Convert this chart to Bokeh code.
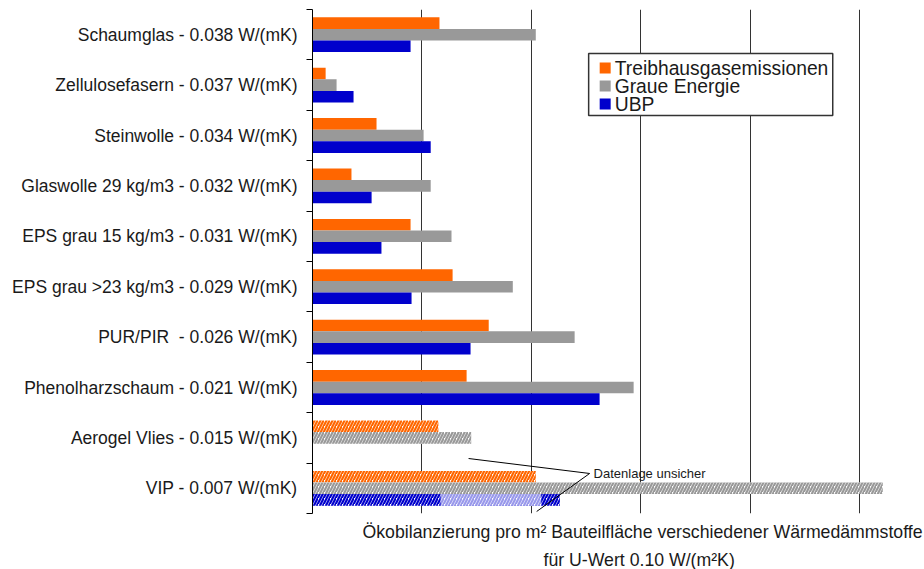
from bokeh.plotting import figure
from bokeh.models import FixedTicker, Label, Title
from bokeh.embed import file_html
from bokeh.resources import INLINE

categories = [
    "Schaumglas - 0.038 W/(mK)",
    "Zellulosefasern - 0.037 W/(mK)",
    "Steinwolle - 0.034 W/(mK)",
    "Glaswolle 29 kg/m3 - 0.032 W/(mK)",
    "EPS grau 15 kg/m3 - 0.031 W/(mK)",
    "EPS grau >23 kg/m3 - 0.029 W/(mK)",
    "PUR/PIR\u00a0 - 0.026 W/(mK)",
    "Phenolharzschaum - 0.021 W/(mK)",
    "Aerogel Vlies - 0.015 W/(mK)",
    "VIP - 0.007 W/(mK)",
]
treibhaus = [1.16, 0.12, 0.585, 0.356, 0.896, 1.28, 1.61, 1.408, 1.15, 2.04]
graue = [2.04, 0.22, 1.015, 1.08, 1.27, 1.83, 2.395, 2.934, 1.45, 5.21]
ubp = [0.896, 0.375, 1.08, 0.54, 0.63, 0.905, 1.444, 2.623, None, 2.26]
uncertain = [False] * 8 + [True, True]
vip_ubp_faded = [1.17, 2.09]

series_names = ["Treibhausgasemissionen", "Graue Energie", "UBP"]
series_colors = ["#FF6600", "#999999", "#0000CC"]

x_title_1 = "Ökobilanzierung pro m² Bauteilfläche verschiedener Wärmedämmstoffe"
x_title_2 = "für U-Wert 0.10 W/(m²K)"
note_text = "Datenlage unsicher"
callout_x = [1.426, 2.532, 2.048]
callout_y = [0.591, 0.294, -0.46]

n = len(categories)
centers = [n - 1 - i for i in range(n)]
bar_h = 0.23
offsets = [bar_h, 0.0, -bar_h]
FONT = "Liberation Sans"
TXT = "#1a1a1a"

p = figure(width=924, height=569, output_backend="svg", toolbar_location=None,
           x_range=(0, 5.5), y_range=(-0.5, n - 0.5),
           min_border_left=312, min_border_right=10, min_border_top=9,
           min_border_bottom=56)
p.outline_line_color = None
p.background_fill_color = "white"
p.xaxis.visible = False
p.ygrid.visible = False
p.xgrid.ticker = FixedTicker(ticks=[1, 2, 3, 4, 5])
p.xgrid.grid_line_color = "#333333"
p.xgrid.grid_line_width = 1

yax = p.yaxis[0]
yax.ticker = FixedTicker(ticks=centers, minor_ticks=[c + 0.5 for c in range(-1, n)])
yax.major_label_overrides = {c: categories[i] for i, c in enumerate(centers)}
yax.major_tick_out = 0
yax.major_tick_in = 0
yax.minor_tick_out = 6
yax.minor_tick_in = 0
yax.minor_tick_line_color = "black"
yax.axis_line_color = "black"
yax.major_label_standoff = 9
yax.major_label_text_font = FONT
yax.major_label_text_font_size = "17.5px"
yax.major_label_text_color = TXT

series_values = [treibhaus, graue, ubp]
for s, vals in enumerate(series_values):
    ys_solid, xs_solid, ys_h, xs_h = [], [], [], []
    for i, v in enumerate(vals):
        if v is None:
            continue
        y = centers[i] + offsets[s]
        if uncertain[i]:
            ys_h.append(y); xs_h.append(v)
        else:
            ys_solid.append(y); xs_solid.append(v)
    p.hbar(y=ys_solid, left=0, right=xs_solid, height=bar_h,
           fill_color=series_colors[s], line_color=None)
    if ys_h:
        p.hbar(y=ys_h, left=0, right=xs_h, height=bar_h, fill_color="white",
               line_color=None, hatch_pattern="right_diagonal_line",
               hatch_color=series_colors[s], hatch_weight=2.2, hatch_scale=6)

# faded part of the VIP UBP bar
p.hbar(y=[centers[-1] + offsets[2]], left=[vip_ubp_faded[0]], right=[vip_ubp_faded[1]],
       height=bar_h, fill_color="white", fill_alpha=0.6, line_color=None)

# callout lines
p.line(x=callout_x[:2], y=callout_y[:2], line_color="black", line_width=1)
p.line(x=callout_x[1:], y=callout_y[1:], line_color="black", line_width=1)
p.add_layout(Label(x=callout_x[1] + 0.036, y=callout_y[1], text=note_text,
                   text_font=FONT, text_font_size="13px", text_baseline="middle",
                   text_color=TXT))

# axis caption (two lines below the plot)
t1 = Title(text=x_title_1, align="left", offset=50, standoff=12,
           text_font=FONT, text_font_size="17.7px", text_font_style="normal",
           text_color=TXT)
t2 = Title(text=x_title_2, align="left", offset=231, standoff=0,
           text_font=FONT, text_font_size="17.7px", text_font_style="normal",
           text_color=TXT)
p.add_layout(t1, "below")
p.add_layout(t2, "below")

# legend box (drawn manually for exact row spacing)
leg_left, leg_right, leg_top, leg_bottom = 2.523, 4.753, 8.627, 7.397
leg_rows = [8.339, 7.982, 7.625]
leg_marker_x = 2.674
leg_text_x = 2.761
p.quad(left=[leg_left], right=[leg_right], top=[leg_top], bottom=[leg_bottom],
       fill_color="white", line_color="#333333", line_width=1.5)
p.scatter(x=[leg_marker_x] * 3, y=leg_rows, marker="square", size=11,
          fill_color=series_colors, line_color=None)
for k in range(3):
    p.add_layout(Label(x=leg_text_x, y=leg_rows[k], text=series_names[k],
                       text_font=FONT, text_font_size="19.3px",
                       text_baseline="middle", text_color=TXT))

open("out.html", "w").write(file_html(p, INLINE))
